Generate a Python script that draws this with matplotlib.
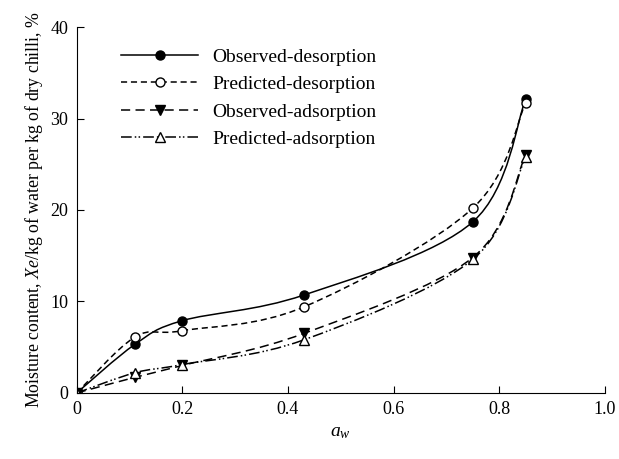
import numpy as np
import matplotlib
matplotlib.use('Agg')
import matplotlib.pyplot as plt
from matplotlib.path import Path
from matplotlib.patches import PathPatch
from matplotlib.lines import Line2D

plt.rcParams['font.family'] = ['Liberation Serif', 'DejaVu Serif']
plt.rcParams['mathtext.fontset'] = 'custom'
plt.rcParams['mathtext.it'] = 'Liberation Serif:italic'
plt.rcParams['mathtext.rm'] = 'Liberation Serif'

# water activity
aw = [0.0, 0.11, 0.2, 0.43, 0.75, 0.85]
obs_des = [0.0, 5.3, 7.9, 10.7, 18.7, 32.1]
pred_des = [0.0, 6.1, 6.8, 9.4, 20.2, 31.7]
obs_ads = [0.0, 1.7, 3.0, 6.5, 14.8, 26.0]
pred_ads = [0.0, 2.2, 3.1, 5.8, 14.6, 25.8]

labels = ['Observed-desorption', 'Predicted-desorption',
          'Observed-adsorption', 'Predicted-adsorption']


def smooth_path(x, y):
    # excel style smoothed line: cubic bezier segments through the points
    x = np.asarray(x, float)
    y = np.asarray(y, float)
    n = len(x)
    verts = [(x[0], y[0])]
    codes = [Path.MOVETO]
    for i in range(n - 1):
        p0 = np.array([x[max(i - 1, 0)], y[max(i - 1, 0)]])
        p1 = np.array([x[i], y[i]])
        p2 = np.array([x[i + 1], y[i + 1]])
        p3 = np.array([x[min(i + 2, n - 1)], y[min(i + 2, n - 1)]])
        c1 = p1 + (p2 - p0) / 6.0
        c2 = p2 - (p3 - p1) / 6.0
        verts += [tuple(c1), tuple(c2), tuple(p2)]
        codes += [Path.CURVE4] * 3
    return Path(verts, codes)


fig = plt.figure(figsize=(6.19, 4.59), dpi=100)
ax = fig.add_axes([0.124, 0.144, 0.853, 0.797])

series = [obs_des, pred_des, obs_ads, pred_ads]
styles = ['-', (0, (4, 2.5)), (0, (6, 3.5)), (0, (7, 2, 1, 1.5, 1, 2))]
markers = ['o', 'o', 'v', '^']
faces = ['black', 'white', 'black', 'white']

handles = []
for ys, ls, mk, fc, lab in zip(series, styles, markers, faces, labels):
    patch = PathPatch(smooth_path(aw, ys), fill=False, ec='black', lw=1.1, ls=ls)
    ax.add_patch(patch)
    ax.plot(aw, ys, ls='none', marker=mk, ms=6.5, mfc=fc, mec='black', mew=1.0)
    handles.append(Line2D([], [], color='black', lw=1.1, ls=ls, marker=mk,
                          ms=6.5, mfc=fc, mec='black', mew=1.0))

ax.set_xlim(0, 1.0)
ax.set_ylim(0, 40)
ax.set_xticks(np.arange(0, 1.01, 0.2))
ax.set_xticklabels(['0', '0.2', '0.4', '0.6', '0.8', '1.0'])
ax.set_yticks([0, 10, 20, 30, 40])
ax.spines['top'].set_visible(False)
ax.spines['right'].set_visible(False)
ax.tick_params(direction='in', length=5, labelsize=13, pad=6)
ax.set_xlabel('$a_w$', fontsize=14)
ax.set_ylabel('Moisture content, $Xe$/kg of water per kg of dry chilli, %', fontsize=12.8)

ax.legend(handles, labels, loc='upper left', bbox_to_anchor=(0.05, 0.99),
          frameon=False, fontsize=14, handlelength=4.0, handletextpad=0.7,
          labelspacing=0.5)

fig.savefig('out.png', dpi=100)
